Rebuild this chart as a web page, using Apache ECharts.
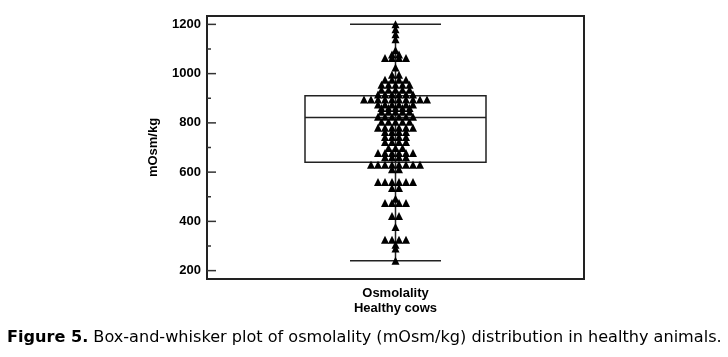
<!DOCTYPE html>
<html>
<head>
<meta charset="utf-8">
<script src="https://cdn.jsdelivr.net/npm/echarts@6/dist/echarts.min.js"></script>
<style>html,body{margin:0;padding:0;background:#fff}#c{width:728px;height:357px}</style>
</head>
<body>
<div id="c"></div>
<script>
// ---- data ----
const categoryLabel = ['Osmolality', 'Healthy cows'];
const yTickLabels = [200, 400, 600, 800, 1000, 1200];
const yMinorTicks = [300, 500, 700, 900, 1100];
// box-and-whisker statistics: [min, Q1, median, Q3, max]
const boxStats = [240, 640, 822, 910, 1200];
// individual osmolality values (mOsm/kg)
const osmolality = [
  1200, 1180, 1160, 1140,
  1095,
  1078, 1078,
  1063, 1063, 1063, 1063,
  1025,
  995, 995,
  975, 975, 975, 975,
  955, 955, 955, 955, 955,
  935, 935, 935, 935, 935,
  915, 915, 915, 915, 915, 915,
  895, 895, 895, 895, 895, 895, 895, 895, 895, 895,
  875, 875, 875, 875, 875, 875,
  860, 860, 860, 860, 860,
  845, 845, 845, 845, 845,
  825, 825, 825, 825, 825, 825,
  805, 805, 805, 805, 805,
  780, 780, 780, 780, 780, 780,
  763, 763, 763, 763,
  743, 743, 743, 743,
  722, 722, 722, 722,
  698, 698, 698,
  678, 678, 678, 678, 678, 678,
  660, 660, 660, 660,
  630, 630, 630, 630, 630, 630, 630, 630,
  612, 612,
  560, 560, 560, 560, 560, 560,
  536, 536,
  492,
  475, 475, 475, 475,
  422, 422,
  377,
  325, 325, 325, 325,
  305,
  290,
  240
];

// ---- layout constants ----
const GRID = {left: 207, right: 144, top: 16, bottom: 78};
const plotW = 728 - GRID.left - GRID.right;
const pxPerX = plotW / 2;          // x axis spans -1..1
const SPACING = 7;                 // horizontal spacing of dots in a row (px)
const BOX_W = 181, CAP_W = 91;
const MAJOR_TICK = 9, MINOR_TICK = 4;

// dot-plot layout: equal values form a row, spread symmetrically about the centre
const counts = {};
osmolality.forEach(v => counts[v] = (counts[v] || 0) + 1);
const seen = {};
const scatterData = osmolality.map(v => {
  const n = counts[v];
  const i = seen[v] = (seen[v] === undefined ? 0 : seen[v] + 1);
  const offPx = (i - (n - 1) / 2) * SPACING;
  return [offPx / pxPerX, v];
});

// all inward ticks on the left frame (major + minor), placed through the y scale
const tickData = yTickLabels.map(v => [v, MAJOR_TICK]).concat(yMinorTicks.map(v => [v, MINOR_TICK]));

const chart = echarts.init(document.getElementById('c'), null, {renderer: 'canvas'});
chart.setOption({
  animation: false,
  backgroundColor: '#fff',
  title: {
    left: 7, top: 330, padding: 0,
    text: '{b|Figure 5.} Box-and-whisker plot of osmolality (mOsm/kg) distribution in healthy animals.',
    textStyle: {
      fontFamily: 'DejaVu Sans', fontSize: 16.1, fontWeight: 'normal', color: '#000',
      rich: {b: {fontFamily: 'DejaVu Sans', fontSize: 16.1, fontWeight: 'bold', color: '#000'}}
    }
  },
  grid: Object.assign({show: true, borderColor: '#222', borderWidth: 2}, GRID),
  xAxis: {
    type: 'value', min: -1, max: 1,
    axisLine: {show: false, onZero: false}, axisTick: {show: false}, splitLine: {show: false},
    axisLabel: {
      customValues: [0],
      formatter: () => categoryLabel.join('\n'),
      fontFamily: 'Liberation Sans', fontSize: 13, fontWeight: 'bold', color: '#000',
      lineHeight: 15, margin: 7
    }
  },
  yAxis: {
    type: 'value', min: 166, max: 1234,
    axisLine: {show: false, onZero: false}, splitLine: {show: false},
    axisTick: {show: false},
    axisLabel: {customValues: yTickLabels, formatter: v => String(v),
      fontFamily: 'Liberation Sans', fontSize: 13,
      fontWeight: 'bold', color: '#000', margin: 6},
    name: 'mOsm/kg', nameLocation: 'middle', nameGap: 47,
    nameTextStyle: {fontFamily: 'Liberation Sans', fontSize: 13, fontWeight: 'bold', color: '#000'}
  },
  series: [{
    type: 'custom', z: 5, silent: true, clip: false,
    data: tickData,
    renderItem: function (params, api) {
      const p = api.coord([-1, api.value(0)]);
      const len = api.value(1);
      return {type: 'rect', shape: {x: p[0], y: p[1] - 0.75, width: len, height: 1.5},
        style: {fill: '#333'}};
    }
  }, {
    type: 'custom',
    data: [boxStats],
    z: 1,
    renderItem: function (params, api) {
      const lo = api.coord([0, api.value(0)]);
      const q1 = api.coord([0, api.value(1)]);
      const med = api.coord([0, api.value(2)]);
      const q3 = api.coord([0, api.value(3)]);
      const hi = api.coord([0, api.value(4)]);
      const cx = lo[0];
      const st = {stroke: '#222', lineWidth: 1.5, fill: null};
      return {type: 'group', children: [
        {type: 'line', shape: {x1: cx, y1: hi[1], x2: cx, y2: lo[1]}, style: st},
        {type: 'rect', shape: {x: cx - BOX_W / 2, y: q3[1], width: BOX_W, height: q1[1] - q3[1]},
          style: {stroke: '#222', lineWidth: 1.5, fill: null}},
        {type: 'line', shape: {x1: cx - BOX_W / 2, y1: med[1], x2: cx + BOX_W / 2, y2: med[1]}, style: st},
        {type: 'line', shape: {x1: cx - CAP_W / 2, y1: hi[1], x2: cx + CAP_W / 2, y2: hi[1]}, style: st},
        {type: 'line', shape: {x1: cx - CAP_W / 2, y1: lo[1], x2: cx + CAP_W / 2, y2: lo[1]}, style: st}
      ]};
    }
  }, {
    type: 'scatter',
    data: scatterData,
    symbol: 'triangle',
    symbolSize: [8, 8],
    itemStyle: {color: '#000', opacity: 1},
    z: 3
  }]
});
</script>
</body>
</html>
